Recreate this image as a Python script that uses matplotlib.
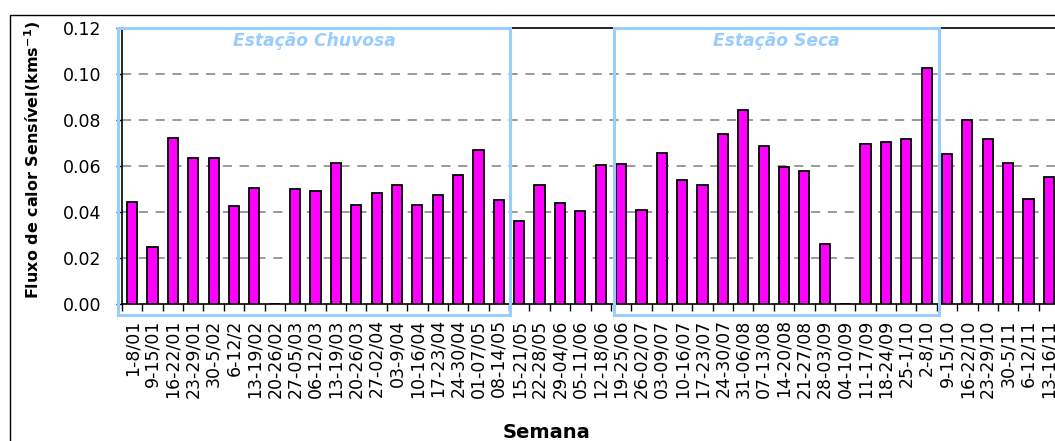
import numpy as np
import matplotlib
matplotlib.use("Agg")
import matplotlib.pyplot as plt
from matplotlib.patches import Rectangle

plt.rcParams['font.family'] = ['DejaVu Sans']

semanas = ["1-8/01", "9-15/01", "16-22/01", "23-29/01", "30-5/02", "6-12/2",
           "13-19/02", "20-26/02", "27-05/03", "06-12/03", "13-19/03", "20-26/03",
           "27-02/04", "03-9/04", "10-16/04", "17-23/04", "24-30/04", "01-07/05",
           "08-14/05", "15-21/05", "22-28/05", "29-04/06", "05-11/06", "12-18/06",
           "19-25/06", "26-02/07", "03-09/07", "10-16/07", "17-23/07", "24-30/07",
           "31-06/08", "07-13/08", "14-20/08", "21-27/08", "28-03/09", "04-10/09",
           "11-17/09", "18-24/09", "25-1/10", "2-8/10", "9-15/10", "16-22/10",
           "23-29/10", "30-5/11", "6-12/11", "13-16/11"]
fluxo = [0.0442, 0.0246, 0.0720, 0.0633, 0.0633, 0.0426, 0.0504, 0.0, 0.0499,
         0.0493, 0.0614, 0.0432, 0.0481, 0.0517, 0.0432, 0.0474, 0.0561, 0.0671,
         0.0451, 0.0360, 0.0518, 0.0439, 0.0403, 0.0603, 0.0609, 0.0407, 0.0658,
         0.0537, 0.0518, 0.0737, 0.0842, 0.0688, 0.0597, 0.0578, 0.0262, 0.0,
         0.0695, 0.0705, 0.0719, 0.1027, 0.0652, 0.0799, 0.0719, 0.0614, 0.0456,
         0.0554]
# periodos (indice inicial e final das semanas)
estacoes = [("Estação Chuvosa", 0, 18), ("Estação Seca", 24, 39)]

fig = plt.figure(figsize=(10.55, 4.41), dpi=100)
ax = fig.add_axes([122/1055, 1-304/441, (1059-122)/1055, 276/441])

x = np.arange(len(semanas))
ax.bar(x, fluxo, width=0.5, color='#FF00FF', edgecolor='black', linewidth=1.3, zorder=3)

ax.set_xlim(-0.5, len(semanas) - 0.5)
ax.set_ylim(0, 0.12)
yt = np.arange(0, 0.121, 0.02)
ax.set_yticks(yt)
ax.set_yticklabels([f"{v:.2f}" for v in yt], fontsize=12.5)
for v in yt[1:-1]:
    ax.axhline(v, color='#808080', linestyle=(0, (6, 5)), linewidth=1.1, zorder=1)

ax.set_xticks(x)
ax.set_xticklabels(semanas, rotation=90, fontsize=12.5, va='top')
ax.tick_params(axis='x', which='major', length=0, pad=11)
ax.set_xticks(np.arange(-0.5, len(semanas)), minor=True)
ax.tick_params(axis='x', which='minor', length=5, direction='out', width=1)
ax.tick_params(axis='y', length=4, direction='out', width=1, pad=11)
for s in ax.spines.values():
    s.set_linewidth(1.2)

# caixas das estacoes
ajustes = [(-0.70, 0.56), (-0.37, 0.62)]
for (nome, i0, i1), (a, b) in zip(estacoes, ajustes):
    x0, x1 = i0 + a, i1 + b
    r = Rectangle((x0, -0.0048), x1 - x0, 0.1248, fill=False,
                  edgecolor='#99CCFF', linewidth=2.2, clip_on=False, zorder=4)
    ax.add_patch(r)
    ax.text((x0 + x1) / 2, 0.1145, nome, ha='center', va='center',
            color='#99CCFF', fontsize=12.3, fontweight='bold', style='italic')

fig.text(33/1055, 1-160/441, "Fluxo de calor Sensível(kms$^{\\mathbf{-1}}$)",
         rotation=90, ha='center', va='center', fontsize=11.5, fontweight='bold')
fig.text(547/1055, 1-432/441, "Semana", ha='center', va='center',
         fontsize=14, fontweight='bold')

fig.add_artist(Rectangle((9.5/1055, -0.1), 1.2, 1.1 - 15/441, fill=False,
                         edgecolor='black', linewidth=1, transform=fig.transFigure))

fig.savefig("out.png", dpi=100)
